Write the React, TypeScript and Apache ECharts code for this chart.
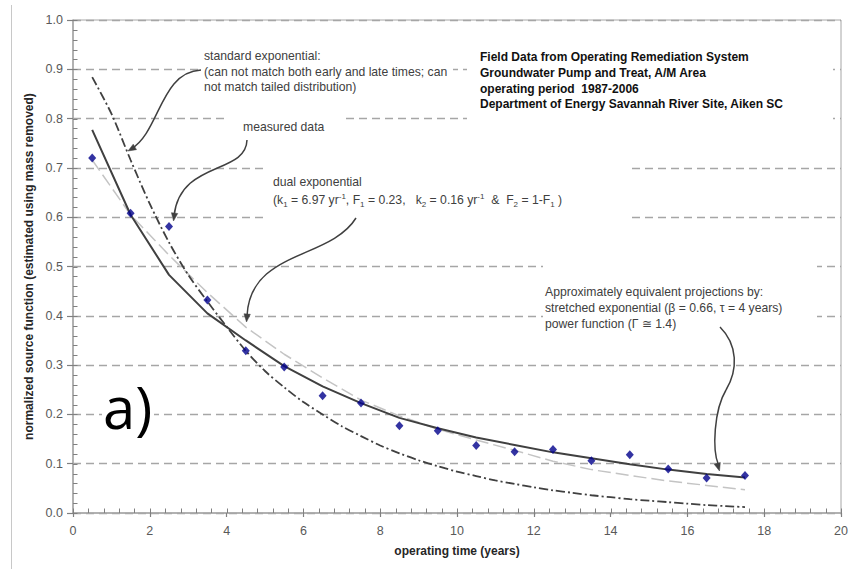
import { useEffect, useRef } from 'react';
import * as echarts from 'echarts';

// Measured normalized source function, one value per operating year (mid-year)
const measuredYears = [0.5, 1.5, 2.5, 3.5, 4.5, 5.5, 6.5, 7.5, 8.5, 9.5, 10.5, 11.5, 12.5, 13.5, 14.5, 15.5, 16.5, 17.5];
const measured = [0.72, 0.608, 0.581, 0.432, 0.329, 0.296, 0.238, 0.223, 0.177, 0.167, 0.137, 0.124, 0.129, 0.106, 0.118, 0.089, 0.071, 0.076];

// Fitted curves
const dualExponential = [0.777, 0.605, 0.483, 0.405, 0.35, 0.298, 0.257, 0.223, 0.193, 0.172, 0.153, 0.138, 0.123, 0.111, 0.099, 0.088, 0.079, 0.072];
const stretchedExponential = [0.716, 0.605, 0.523, 0.447, 0.377, 0.322, 0.274, 0.229, 0.197, 0.17, 0.148, 0.127, 0.105, 0.088, 0.076, 0.065, 0.056, 0.047];

const standardYears = [0.5, 1, 1.5, 2, 2.5, 3, 3.5, 4, 4.5, 5, 5.5, 6, 6.5, 7, 7.5, 8, 8.5, 9, 9.5, 10, 10.5, 11, 11.5, 12, 12.5, 13, 13.5, 14, 14.5, 15, 15.5, 16, 16.5, 17, 17.5];
const standardExponential = [0.884, 0.81, 0.716, 0.627, 0.549, 0.483, 0.429, 0.378, 0.329, 0.288, 0.255, 0.225, 0.2, 0.176, 0.156, 0.137, 0.121, 0.107, 0.095, 0.084, 0.075, 0.066, 0.059, 0.052, 0.046, 0.041, 0.036, 0.032, 0.028, 0.025, 0.022, 0.019, 0.016, 0.014, 0.012];

// Axis ranges
const xRange = { min: 0, max: 20, step: 2, minorStep: 0.4 };
const yRange = { min: 0, max: 1, step: 0.1, minorStep: 0.02 };

const FONT = '"Liberation Sans", Arial, Helvetica, sans-serif';
const INK = '#404040';
const AXIS_GRAY = '#a6a6a6';
const TICK_GRAY = '#808080';

const pairs = (xs: number[], ys: number[]) => xs.map((x, i) => [x, ys[i]]);

// minor tick positions along each axis
const minorX: number[] = [];
for (let i = 0; i <= Math.round((xRange.max - xRange.min) / xRange.minorStep); i++) {
  minorX.push(+(xRange.min + i * xRange.minorStep).toFixed(2));
}
const minorY: number[] = [];
for (let i = 0; i <= Math.round((yRange.max - yRange.min) / yRange.minorStep); i++) {
  minorY.push(+(yRange.min + i * yRange.minorStep).toFixed(3));
}

function arrowHead(tipX: number, tipY: number, fromX: number, fromY: number) {
  const dx = tipX - fromX;
  const dy = tipY - fromY;
  const d = Math.hypot(dx, dy);
  const ux = dx / d;
  const uy = dy / d;
  const len = 8;
  const half = 3.2;
  const bx = tipX - ux * len;
  const by = tipY - uy * len;
  return {
    type: 'polygon',
    z: 20,
    shape: { points: [[tipX, tipY], [bx - uy * half, by + ux * half], [bx + uy * half, by - ux * half]] },
    style: { fill: INK, stroke: INK, lineWidth: 0.5 },
  };
}

function curve(x1: number, y1: number, cpx1: number, cpy1: number, cpx2: number, cpy2: number, x2: number, y2: number) {
  return {
    type: 'bezierCurve',
    z: 20,
    shape: { x1, y1, cpx1, cpy1, cpx2, cpy2, x2, y2 },
    style: { stroke: INK, lineWidth: 1.5, fill: 'none' },
  };
}

function whiteBox(x: number, y: number, width: number, height: number) {
  return { type: 'rect', z: 1, shape: { x, y, width, height }, style: { fill: '#ffffff' }, silent: true };
}

function label(x: number, y: number, text: string, extra: Record<string, unknown> = {}) {
  return {
    type: 'text',
    z: 20,
    x,
    y,
    style: {
      text,
      fill: INK,
      fontFamily: FONT,
      fontSize: 12.2,
      lineHeight: 15.5,
      align: 'left',
      verticalAlign: 'top',
      ...extra,
    },
  };
}

const richSubSup = {
  n: { fontSize: 12.2, lineHeight: 16, fill: INK, fontFamily: FONT },
  s: { fontSize: 8, lineHeight: 9, verticalAlign: 'bottom', fill: INK, fontFamily: FONT },
  p: { fontSize: 8, lineHeight: 9, verticalAlign: 'top', fill: INK, fontFamily: FONT },
};

export default function App() {
  const ref = useRef<HTMLDivElement>(null);

  useEffect(() => {
    if (!ref.current) return;
    const chart = echarts.init(ref.current, null, { renderer: 'svg' });

    const annotations = [
      // outer frame edge
      { type: 'line', z: 1, shape: { x1: 11.5, y1: 5, x2: 11.5, y2: 569 }, style: { stroke: '#c8c8c8', lineWidth: 1 } },

      // text boxes hide the grid lines behind them
      whiteBox(199, 44, 254, 52),
      whiteBox(227, 112, 115, 28),
      whiteBox(467, 42, 366, 84),
      whiteBox(267, 158, 363, 67),
      whiteBox(543, 258, 274, 76),
      whiteBox(102, 382, 52, 56),

      label(204, 48.5, 'standard exponential:\n(can not match both early and late times; can\nnot match tailed distribution)'),
      label(243, 119, 'measured data'),
      label(273, 174, 'dual exponential'),
      {
        type: 'text',
        z: 20,
        x: 273,
        y: 192,
        style: {
          text: '{n|(k}{s|1}{n| = 6.97 yr}{p|-1}{n|, F}{s|1}{n| = 0.23,   k}{s|2}{n| = 0.16 yr}{p|-1}{n|  &  F}{s|2}{n| = 1-F}{s|1}{n| )}',
          rich: richSubSup,
          fill: INK,
          fontFamily: FONT,
          fontSize: 12,
          align: 'left',
          verticalAlign: 'top',
        },
      },
      label(480, 49.5, 'Field Data from Operating Remediation System\nGroundwater Pump and Treat, A/M Area\noperating period  1987-2006\nDepartment of Energy Savannah River Site, Aiken SC', {
        fontSize: 12,
        fontWeight: 'bold',
        fill: '#111111',
        lineHeight: 15.7,
      }),
      label(545, 284, 'Approximately equivalent projections by:\nstretched exponential (\u03b2 = 0.66, \u03c4 = 4 years)\npower function (\u0393 \u2245 1.4)', {
        lineHeight: 16,
      }),
      {
        type: 'text',
        z: 20,
        x: 103,
        y: 406,
        style: {
          text: 'a)',
          fill: '#000000',
          fontFamily: '"Open Sans", "Noto Sans", sans-serif',
          fontSize: 58,
          align: 'left',
          verticalAlign: 'middle',
        },
      },

      // annotation arrows
      curve(201, 70, 160, 72, 160, 132, 131, 149),
      arrowHead(128, 151, 138, 145),
      curve(247, 140, 246, 175, 180, 160, 174, 216),
      arrowHead(173.5, 221, 175, 210),
      curve(356, 218, 330, 260, 250, 250, 247, 316),
      arrowHead(246.5, 322, 247.5, 310),
      curve(720, 327, 738, 345, 738, 370, 726, 390),
      curve(726, 390, 714, 410, 712, 450, 718.5, 465),
      arrowHead(719.5, 471, 716, 459),
    ];

    const option = {
      animation: false,
      backgroundColor: '#ffffff',
      textStyle: { fontFamily: FONT },
      grid: {
        left: 73,
        right: 16,
        top: 20,
        bottom: 56,
        show: true,
        borderColor: AXIS_GRAY,
        borderWidth: 1,
        backgroundColor: 'transparent',
      },
      xAxis: {
        type: 'value',
        min: xRange.min,
        max: xRange.max,
        interval: xRange.step,
        name: 'operating time (years)',
        nameLocation: 'middle',
        nameGap: 32,
        nameTextStyle: { fontFamily: FONT, fontSize: 12, fontWeight: 'bold', color: '#262626' },
        axisLine: { show: true, lineStyle: { color: AXIS_GRAY, width: 1.5 } },
        axisTick: { show: true, inside: false, length: 4, lineStyle: { color: TICK_GRAY, width: 1.2 } },
        axisLabel: { color: '#595959', fontSize: 12.5, fontFamily: FONT, margin: 11 },
        splitLine: { show: false },
      },
      yAxis: {
        type: 'value',
        min: yRange.min,
        max: yRange.max,
        interval: yRange.step,
        name: 'normalized source function (estimated using mass removed)',
        nameLocation: 'middle',
        nameGap: 33,
        nameTextStyle: { fontFamily: FONT, fontSize: 12, fontWeight: 'bold', color: '#262626' },
        axisLine: { show: true, lineStyle: { color: AXIS_GRAY, width: 1.5 } },
        axisTick: { show: true, inside: false, length: 6, lineStyle: { color: TICK_GRAY, width: 1.2 } },
        axisLabel: {
          color: '#595959',
          fontSize: 12.5,
          fontFamily: FONT,
          margin: 10,
          formatter: (v: number) => v.toFixed(1),
        },
        splitLine: { show: true, lineStyle: { color: AXIS_GRAY, width: 1.3, type: [8, 5] } },
      },
      series: [
        {
          name: 'minor ticks x',
          type: 'custom',
          silent: true,
          clip: false,
          z: 6,
          data: minorX.map((v) => [v, yRange.min]),
          renderItem: (_params: any, api: any) => {
            const p = api.coord([api.value(0), api.value(1)]);
            const x = Math.round(p[0]) + 0.5;
            return {
              type: 'line',
              shape: { x1: x, y1: p[1], x2: x, y2: p[1] - 4.5 },
              style: { stroke: TICK_GRAY, lineWidth: 1 },
            };
          },
        },
        {
          name: 'minor ticks y',
          type: 'custom',
          silent: true,
          clip: false,
          z: 6,
          data: minorY.map((v) => [xRange.min, v]),
          renderItem: (_params: any, api: any) => {
            const p = api.coord([api.value(0), api.value(1)]);
            const y = Math.round(p[1]) + 0.5;
            return {
              type: 'line',
              shape: { x1: p[0], y1: y, x2: p[0] + 4.5, y2: y },
              style: { stroke: TICK_GRAY, lineWidth: 1 },
            };
          },
        },
        {
          name: 'stretched exponential',
          type: 'line',
          data: pairs(measuredYears, stretchedExponential),
          showSymbol: false,
          symbol: 'none',
          z: 3,
          lineStyle: { color: '#c4c4c4', width: 1.5, type: [13, 5] },
        },
        {
          name: 'standard exponential',
          type: 'line',
          data: pairs(standardYears, standardExponential),
          showSymbol: false,
          symbol: 'none',
          smooth: 0.3,
          z: 3,
          lineStyle: { color: INK, width: 1.8, type: [9, 3, 2, 3] },
        },
        {
          name: 'dual exponential',
          type: 'line',
          data: pairs(measuredYears, dualExponential),
          showSymbol: false,
          symbol: 'none',
          z: 4,
          lineStyle: { color: INK, width: 2 },
        },
        {
          name: 'measured data',
          type: 'scatter',
          data: pairs(measuredYears, measured),
          symbol: 'diamond',
          symbolSize: [8, 9],
          z: 5,
          itemStyle: { color: '#00008b' },
        },
      ],
      graphic: annotations,
    };

    chart.setOption(option as any);
    return () => chart.dispose();
  }, []);

  return (
    <div
      ref={ref}
      style={{ position: 'fixed', left: 0, top: 0, width: 857, height: 569, background: '#ffffff' }}
    />
  );
}
